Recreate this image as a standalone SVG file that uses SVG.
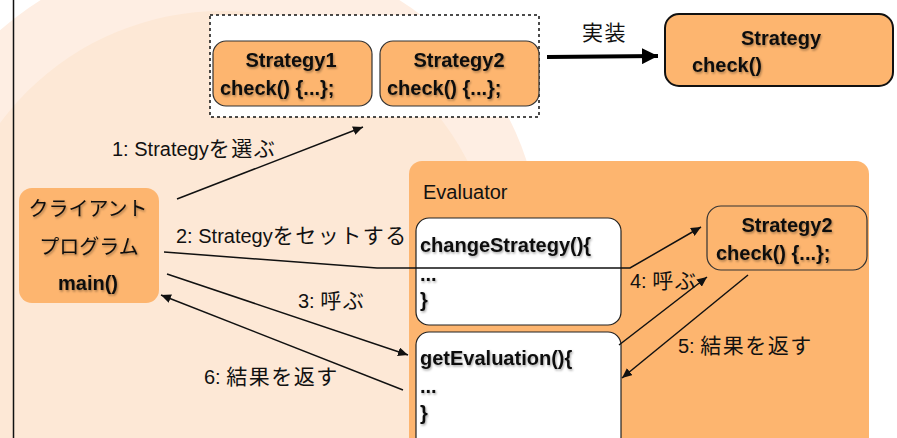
<svg xmlns="http://www.w3.org/2000/svg" width="897" height="438" viewBox="0 0 897 438">
<defs>
<style>
.box{fill:#FDB56F}
.sb{fill:#FDB56F;stroke:#333;stroke-width:1.2}
.wb{fill:#fff;stroke:#222;stroke-width:1.2}
.nt{font-family:"Liberation Sans","Noto Sans CJK JP",sans-serif;font-weight:bold;font-size:20px;fill:#111;filter:url(#sh)}
.ct{font-family:"Liberation Sans","Noto Sans CJK JP",sans-serif;font-size:20px;fill:#111;filter:url(#sh)}
.lb{font-family:"Liberation Sans","Noto Sans CJK JP",sans-serif;font-size:20px;fill:#111}
.jp{font-size:21px;letter-spacing:1.5px}
.cn{fill:none;stroke:#111;stroke-width:1.5}
</style>
<filter id="sh" x="-10%" y="-30%" width="120%" height="160%">
<feDropShadow dx="1" dy="1.5" stdDeviation="1.2" flood-color="#000" flood-opacity="0.35"/>
</filter>
<marker id="arr" viewBox="0 0 10 9" refX="10" refY="4.5" markerWidth="10" markerHeight="9" markerUnits="userSpaceOnUse" orient="auto">
<path d="M0,0 L10,4.5 L0,9 z" fill="#111"/>
</marker>
<marker id="big" viewBox="0 0 16 16" refX="16" refY="8" markerWidth="16" markerHeight="16" markerUnits="userSpaceOnUse" orient="auto">
<path d="M0,0 L16,8 L0,16 z" fill="#000"/>
</marker>
</defs>
<rect x="0" y="0" width="897" height="438" fill="#fff"/>
<g id="background">
<ellipse cx="220" cy="246" rx="320" ry="297" fill="#FEEEE3"/>
<circle cx="222" cy="287" r="276" fill="#FDE8D6"/>
<line x1="13.5" y1="0" x2="13.5" y2="438" stroke="#111" stroke-width="1.5"/>
</g>
<g id="strategy-group">
<rect x="210" y="15" width="329" height="102" fill="#fff" stroke="#111" stroke-width="1.5" stroke-dasharray="3,3"/>
</g>
<g id="strategy1">
<rect class="sb" x="213" y="41" width="159" height="65" rx="13"/>
<text class="nt" x="291" y="67" text-anchor="middle">Strategy1</text>
<text class="nt" x="220" y="95">check() {...};</text>
</g>
<g id="strategy2-top">
<rect class="sb" x="380" y="41" width="159" height="65" rx="13"/>
<text class="nt" x="459" y="67" text-anchor="middle">Strategy2</text>
<text class="nt" x="387" y="95">check() {...};</text>
</g>
<g id="strategy-interface">
<rect x="665" y="14" width="228" height="72" rx="14" fill="#FDB56F" stroke="#111" stroke-width="2"/>
<text class="nt" x="781" y="45" text-anchor="middle">Strategy</text>
<text class="nt" x="692" y="72">check()</text>
</g>
<g id="client">
<rect class="box" x="19" y="188" width="140" height="115" rx="13"/>
<text class="ct" x="88" y="216" text-anchor="middle">クライアント</text>
<text class="ct" x="89" y="254" text-anchor="middle">プログラム</text>
<text class="nt" x="88" y="290" text-anchor="middle">main()</text>
</g>
<g id="evaluator">
<rect class="box" x="409" y="161" width="460" height="300" rx="13"/>
<text class="lb" x="423" y="199">Evaluator</text>
</g>
<g id="changeStrategy">
<rect class="wb" x="416" y="218" width="205" height="107" rx="13"/>
<text class="nt" x="420" y="252">changeStrategy(){</text>
<text class="nt" x="420" y="281">...</text>
<text class="nt" x="420" y="307">}</text>
</g>
<g id="getEvaluation">
<rect class="wb" x="416" y="332" width="205" height="118" rx="13"/>
<text class="nt" x="420" y="365">getEvaluation(){</text>
<text class="nt" x="420" y="393">...</text>
<text class="nt" x="420" y="420">}</text>
</g>
<g id="strategy2-inner">
<rect class="sb" x="707" y="206" width="160" height="64" rx="14"/>
<text class="nt" x="787" y="232" text-anchor="middle">Strategy2</text>
<text class="nt" x="716" y="260">check() {...};</text>
</g>
<g id="connectors">
<line x1="547" y1="57" x2="658" y2="56" stroke="#000" stroke-width="4" marker-end="url(#big)"/>
<line class="cn" x1="177" y1="199" x2="363" y2="127" marker-end="url(#arr)"/>
<polyline class="cn" points="164,252 377,268 630,268 701,227" marker-end="url(#arr)"/>
<line class="cn" x1="167" y1="274" x2="408" y2="355" marker-end="url(#arr)"/>
<line class="cn" x1="403" y1="390" x2="161" y2="295" marker-end="url(#arr)"/>
<line class="cn" x1="619" y1="345" x2="707" y2="277" marker-end="url(#arr)"/>
<line class="cn" x1="748" y1="275" x2="622" y2="378" marker-end="url(#arr)"/>
<text class="lb" x="582" y="40"><tspan class="jp">実装</tspan></text>
<text class="lb" x="112" y="156">1: Strategy<tspan class="jp">を選ぶ</tspan></text>
<text class="lb" x="176" y="243">2: Strategy<tspan class="jp">をセットする</tspan></text>
<text class="lb" x="298" y="308">3: <tspan class="jp">呼ぶ</tspan></text>
<text class="lb" x="630" y="288">4: <tspan class="jp">呼ぶ</tspan></text>
<text class="lb" x="678" y="353">5: <tspan class="jp">結果を返す</tspan></text>
<text class="lb" x="204" y="384">6: <tspan class="jp">結果を返す</tspan></text>
</g>
</svg>
